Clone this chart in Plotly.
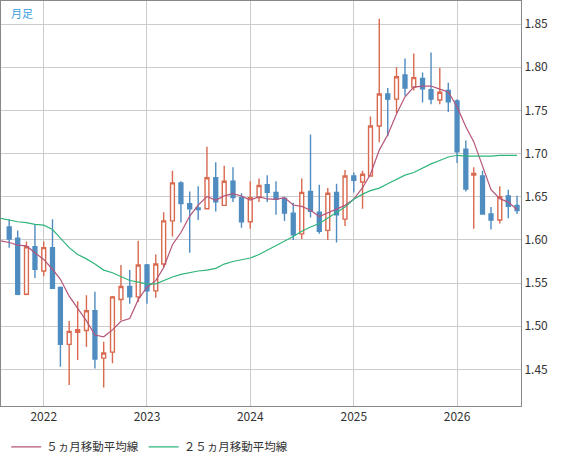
import plotly.graph_objects as go
import pandas as pd

months = pd.date_range("2021-09-01", "2026-08-01", freq="MS")
opens = [1.615,1.602,1.537,1.592,1.564,1.591,1.545,1.479,1.493,1.495,1.518,1.463,1.470,1.531,1.546,1.534,
         1.571,1.541,1.572,1.622,1.666,1.642,1.637,1.636,1.672,1.640,1.668,1.649,
         1.621,1.649,1.664,1.655,1.648,1.631,1.607,1.656,1.632,1.611,1.655,1.624,
         1.674,1.667,1.674,1.732,1.769,1.763,1.791,1.777,1.787,1.774,1.762,1.773,
         1.761,1.705,1.675,1.674,1.630,1.623,1.651,1.640]
highs = [1.624,1.611,1.598,1.618,1.598,1.624,1.546,1.506,1.529,1.536,1.540,1.482,1.535,1.571,1.565,1.599,
         1.572,1.583,1.632,1.680,1.668,1.656,1.662,1.708,1.690,1.686,1.684,1.654,
         1.668,1.671,1.675,1.668,1.650,1.643,1.671,1.722,1.664,1.660,1.665,1.681,
         1.678,1.680,1.743,1.856,1.776,1.800,1.810,1.816,1.794,1.817,1.799,1.782,
         1.763,1.715,1.684,1.680,1.638,1.662,1.658,1.651]
lows = [1.591,1.536,1.536,1.556,1.558,1.543,1.453,1.432,1.461,1.476,1.451,1.429,1.457,1.507,1.526,1.528,
        1.526,1.533,1.568,1.604,1.620,1.585,1.623,1.636,1.633,1.640,1.644,1.614,
        1.613,1.644,1.644,1.629,1.622,1.600,1.601,1.626,1.607,1.600,1.597,1.616,
        1.655,1.636,1.674,1.713,1.720,1.747,1.767,1.773,1.759,1.757,1.757,1.748,
        1.689,1.656,1.613,1.629,1.612,1.619,1.625,1.630]
closes = [1.601,1.537,1.592,1.566,1.591,1.544,1.479,1.494,1.496,1.518,1.462,1.469,1.534,1.546,1.534,1.571,
          1.541,1.572,1.622,1.666,1.642,1.636,1.635,1.672,1.644,1.668,1.649,1.621,
          1.649,1.663,1.655,1.647,1.631,1.606,1.655,1.633,1.610,1.654,1.629,1.674,
          1.669,1.676,1.732,1.769,1.763,1.789,1.776,1.788,1.775,1.763,1.771,1.760,
          1.702,1.659,1.677,1.630,1.623,1.650,1.639,1.634]

ma_dates = pd.date_range("2021-08-01", "2026-08-01", freq="MS")
ma5_head = [1.599, 1.597, 1.594, 1.593, 1.585]
ma25 = [1.625,1.623,1.621,1.620,1.618,
        1.617,1.612,1.602,1.591,1.583,1.578,1.572,1.565,1.562,1.558,1.553,1.551,
        1.549,1.549,1.553,1.557,1.560,1.562,1.564,1.565,1.567,1.572,1.575,1.577,
        1.579,1.583,1.588,1.593,1.599,1.604,1.610,1.615,1.619,1.625,1.631,1.638,
        1.647,1.653,1.657,1.660,1.665,1.670,1.675,1.678,1.683,1.688,1.692,1.696,
        1.698,1.697,1.697,1.697,1.697,1.698,1.698,1.698]

roll = pd.Series(closes).rolling(5).mean().tolist()
ma5 = ma5_head + roll[4:]

fig = go.Figure()
fig.add_trace(go.Candlestick(
    x=months, open=opens, high=highs, low=lows, close=closes,
    increasing=dict(line=dict(color="#d9694f", width=1.4), fillcolor="white"),
    decreasing=dict(line=dict(color="#4f8cc0", width=1.4), fillcolor="#4f8cc0"),
    whiskerwidth=0, showlegend=False, hoverinfo="skip"))
fig.add_trace(go.Scatter(x=ma_dates, y=ma5, mode="lines", name="５ヵ月移動平均線",
                         line=dict(color="#b5557a", width=1.2)))
fig.add_trace(go.Scatter(x=ma_dates, y=ma25, mode="lines", name="２５ヵ月移動平均線",
                         line=dict(color="#2fb57a", width=1.2)))

font = "Noto Sans CJK JP"
fig.update_layout(
    width=574, height=462, margin=dict(l=1, r=53, t=1, b=52),
    paper_bgcolor="white", plot_bgcolor="white",
    font=dict(family=font, size=12, color="#333"),
    xaxis=dict(range=["2021-08-03", "2026-08-15"], rangeslider=dict(visible=False),
               tickvals=["2022-01-01","2023-01-01","2024-01-01","2025-01-01","2026-01-01"],
               ticktext=["2022","2023","2024","2025","2026"],
               showgrid=True, gridcolor="#cccccc", gridwidth=1.3,
               showline=True, linecolor="#888", mirror=True, ticks="", zeroline=False),
    yaxis=dict(side="right", range=[1.4076, 1.8767], dtick=0.05, tick0=1.45, tickformat=".2f",
               showgrid=True, gridcolor="#cccccc", gridwidth=1.3,
               showline=True, linecolor="#888", mirror=True, ticks="", zeroline=False),
    legend=dict(orientation="h", x=0.01, y=-0.065, xanchor="left", yanchor="top",
                font=dict(size=11.5, color="#333"), bgcolor="rgba(0,0,0,0)"),
    annotations=[dict(text="月足", xref="paper", yref="paper", x=0.015, y=0.995,
                      xanchor="left", yanchor="top", showarrow=False,
                      font=dict(size=11, color="#3aa0e0", family=font))],
)
fig.write_html("out.html", post_script="document.body.style.margin='0';",
               config={"displayModeBar": False})
